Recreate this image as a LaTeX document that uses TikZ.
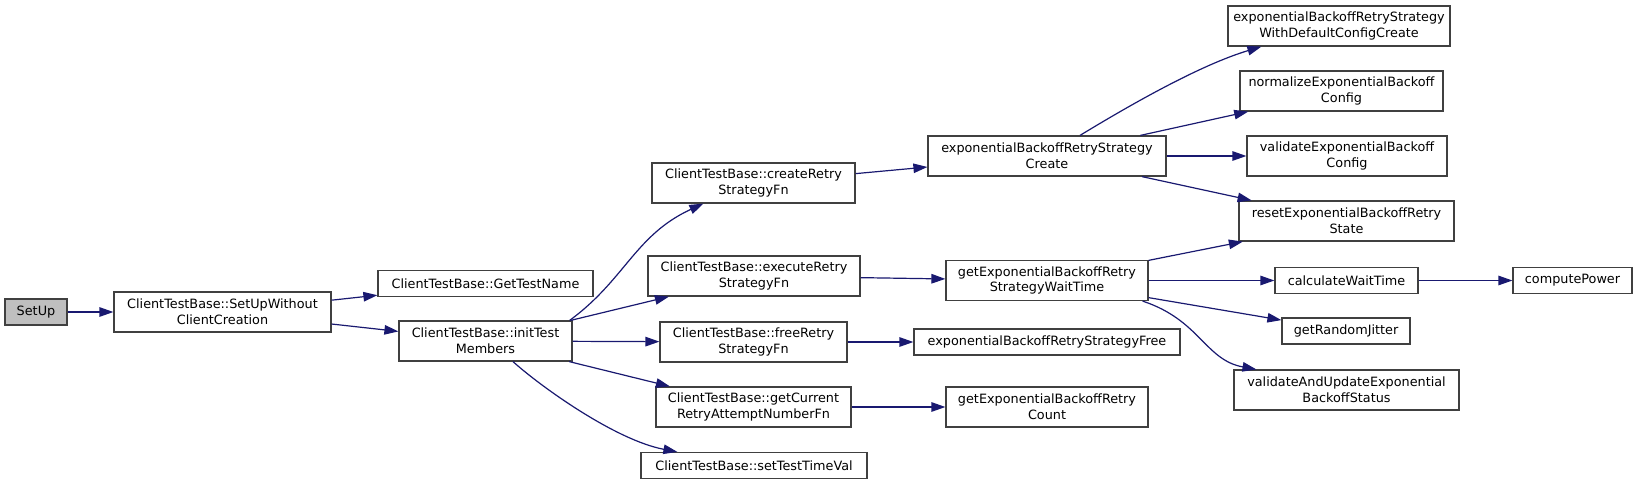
\documentclass[tikz,border=0pt]{standalone}
\usepackage{fontspec}
\setmainfont{DejaVu Sans}
\usetikzlibrary{calc}
\usetikzlibrary{arrows.meta}
\definecolor{edgecol}{HTML}{191970}
\definecolor{boxcol}{HTML}{404040}
\definecolor{rootcol}{HTML}{BFBFBF}
\tikzset{
  fn/.style = {draw = boxcol, fill = white, line width = 1.2pt, align = center, inner sep = 0pt,
               minimum height = 26pt, font = \fontsize{12.8}{15.7}\selectfont},
  fntwo/.style = {fn, minimum height = 40pt},
  call/.style = {-{Triangle[length = 14pt, width = 9.5pt]}, draw = edgecol, line width = 1.2pt}
}

\begin{document}
\begin{tikzpicture}[x = 1pt, y = -1pt]
            \useasboundingbox (0, 0) rectangle (1637, 485);

            % left part
            \node[fn, fill = rootcol, minimum width = 62pt] (setup) at (36, 312) {SetUp};
            \node[fntwo, minimum width = 217pt] (setupwo) at (222.5, 312) {ClientTestBase::SetUpWithout\\ClientCreation};
            \node[fn, minimum width = 215pt] (gettestname) at (485.5, 283.5) {ClientTestBase::GetTestName};
            \node[fntwo, minimum width = 173pt] (inittest) at (485.5, 341) {ClientTestBase::initTest\\Members};

            \node[fntwo, minimum width = 203pt] (createretry) at (753.5, 183) {ClientTestBase::createRetry\\StrategyFn};
            \node[fntwo, minimum width = 212pt] (executeretry) at (754, 276) {ClientTestBase::executeRetry\\StrategyFn};
            \node[fntwo, minimum width = 187pt] (freeretry) at (753.5, 342) {ClientTestBase::freeRetry\\StrategyFn};
            \node[fntwo, minimum width = 195pt] (getcurrent) at (753.5, 407) {ClientTestBase::getCurrent\\RetryAttemptNumberFn};
            \node[fn, minimum width = 226pt] (settesttime) at (754, 465.5) {ClientTestBase::setTestTimeVal};

            % middle part
            \node[fntwo, minimum width = 238pt] (expcreate) at (1047, 156) {exponentialBackoffRetryStrategy\\Create};
            \node[fntwo, minimum width = 202pt] (waittime) at (1047, 280.5) {getExponentialBackoffRetry\\StrategyWaitTime};
            \node[fn, minimum width = 266pt] (expfree) at (1047, 342) {exponentialBackoffRetryStrategyFree};
            \node[fntwo, minimum width = 202pt] (expcount) at (1047, 407) {getExponentialBackoffRetry\\Count};

            % right part
            \node[fntwo, minimum width = 222pt] (withdefault) at (1339, 26) {exponentialBackoffRetryStrategy\\WithDefaultConfigCreate};
            \node[fntwo, minimum width = 203pt] (normalize) at (1341.5, 91) {normalizeExponentialBackoff\\Config};
            \node[fntwo, minimum width = 200pt] (validate) at (1347, 156) {validateExponentialBackoff\\Config};
            \node[fntwo, minimum width = 215pt] (reset) at (1346.5, 221) {resetExponentialBackoffRetry\\State};
            \node[fn, minimum width = 143pt] (calcwait) at (1346.5, 280.5) {calculateWaitTime};
            \node[fn, minimum width = 128pt] (jitter) at (1346, 331) {getRandomJitter};
            \node[fntwo, minimum width = 225pt] (valupdate) at (1346.5, 390) {validateAndUpdateExponential\\BackoffStatus};
            \node[fn, minimum width = 119pt] (computepower) at (1572.5, 280.5) {computePower};

            \draw[call] (setup) -- (setupwo);
            \draw[call] (setupwo) -- (gettestname);
            \draw[call] (setupwo) -- (inittest);

            \draw[call] ($(inittest.north east)+(-3, 0)$) .. controls (625, 280) and (635, 235) .. ($(createretry.south west)+(52, 0)$);
            \draw[call] (inittest) -- (executeretry);
            \draw[call] (inittest) -- (freeretry);
            \draw[call] (inittest) -- (getcurrent);
            \draw[call] ($(inittest.south)+(27.5, 0)$) .. controls (540, 386) and (615, 440) .. ($(settesttime.north west)+(37, 0)$);

            \draw[call] (createretry) -- (expcreate);
            \draw[call] (executeretry) -- (waittime);
            \draw[call] (freeretry) -- (expfree);
            \draw[call] (getcurrent) -- (expcount);

            \draw[call] ($(expcreate.north)+(33, 0)$) .. controls (1130, 105) and (1200, 65) .. ($(withdefault.south west)+(34, 0)$);
            \draw[call] (expcreate) -- (normalize);
            \draw[call] (expcreate) -- (validate);
            \draw[call] (expcreate) -- (reset);

            \draw[call] (waittime) -- (reset);
            \draw[call] (waittime) -- (calcwait);
            \draw[call] (waittime) -- (jitter);
            \draw[call] ($(waittime.south east)+(-6, 0)$) .. controls (1200, 320) and (1205, 360) .. ($(valupdate.north west)+(23, 0)$);

            \draw[call] (calcwait) -- (computepower);
\end{tikzpicture}
\end{document}
